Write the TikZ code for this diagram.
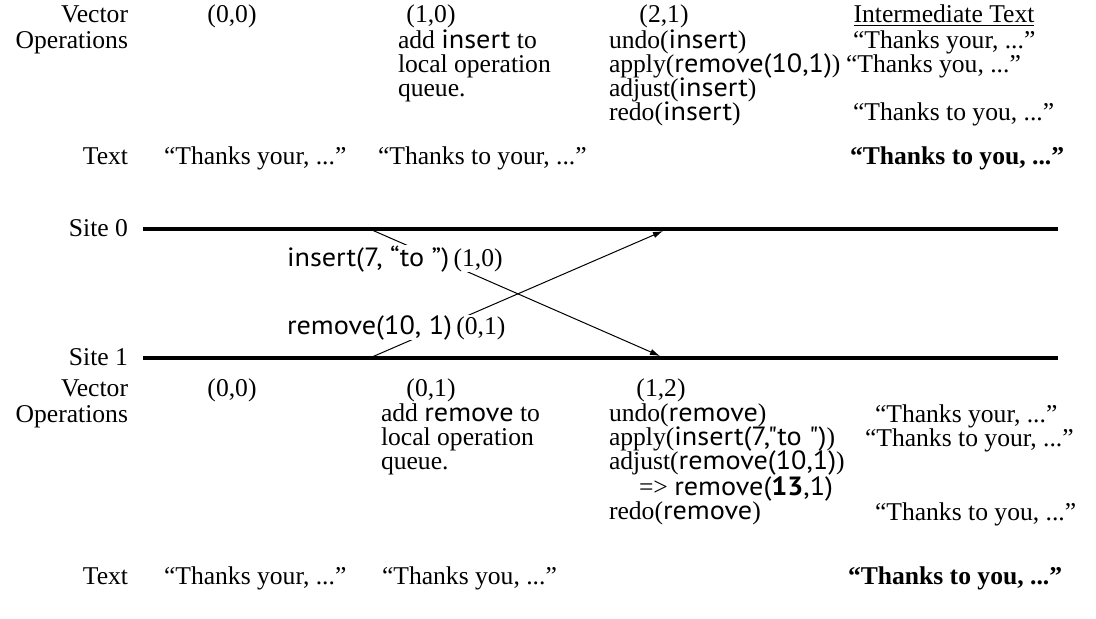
\documentclass[tikz,border=0pt]{standalone}
\usepackage{fontspec}
\setmainfont{Liberation Serif}
\newfontfamily\opfont[Scale=1.03,FakeStretch=1.07]{PT Sans}
\usetikzlibrary{arrows.meta}
\newcommand{\op}[1]{{\opfont #1}}
\newcommand{\tightlines}{\lineskiplimit=-20pt\relax\lineskip=0pt\relax}
\begin{document}
\begin{tikzpicture}[x=0.5pt,y=-0.5pt,
  every node/.style={inner sep=0pt,outer sep=0pt,font=\fontsize{12.8}{12}\selectfont\tightlines},
  lab/.style={anchor=base east},
  txt/.style={anchor=base west},
  ctr/.style={anchor=base},
  blk/.style={anchor=north west,align=left},
  site/.style={line width=2pt},
  msg/.style={line width=0.5pt,-{Latex[length=5pt,width=3.2pt]}},
  tag/.style={anchor=base west,fill=white}]
\useasboundingbox (0,0) rectangle (1096,618);
% ---------- top (site 0) ----------
\node[lab] (v0) at (128,22) {Vector};
\node[ctr] (v0a) at (232,22) {(0,0)};
\node[ctr] (v0b) at (431,22) {(1,0)};
\node[ctr] (v0c) at (664,22) {(2,1)};
\node[ctr] (itx) at (944,22) {\underline{Intermediate Text}};
\node[lab] (o0) at (128,48) {Operations};
\node[blk] (o0b) at (398,30) {add \op{insert} to\\local operation\\queue.};
\node[blk] (o0c) at (609,30) {undo(\op{insert})\\apply(\op{remove(10,1)})\\adjust(\op{insert})\\redo(\op{insert})};
\node[txt] (i0a) at (853,48) {``Thanks your, ...''};
\node[txt] (i0b) at (846,72) {``Thanks you, ...''};
\node[txt] (i0c) at (853,120) {``Thanks to you, ...''};
\node[lab] (t0) at (128,164) {Text};
\node[txt] (t0a) at (164,164) {``Thanks your, ...''};
\node[txt] (t0b) at (378,164) {``Thanks to your, ...''};
\node[txt] (t0c) at (850,164) {\textbf{``Thanks to you, ...''}};
% ---------- sites ----------
\node[anchor=east] (s0) at (128,228) {Site 0};
\node[anchor=east] (s1) at (128,357) {Site 1};
\coordinate (s0l) at (143,229);
\coordinate (s0r) at (1058,229);
\coordinate (s1l) at (143,358);
\coordinate (s1r) at (1058,358);
\draw[site] (s0l) -- (s0r);
\draw[site] (s1l) -- (s1r);
\coordinate (ins0) at (372,230);
\coordinate (ins1) at (660,356);
\coordinate (rem1) at (372,357);
\coordinate (rem0) at (663,231);
\draw[msg] (ins0) -- (ins1);
\draw[msg] (rem1) -- (rem0);
\node[tag] (insl) at (287,266) {\op{insert(7, “to ”)}\,(1,0)};
\node[tag] (reml) at (287,334) {\op{remove(10, 1)}\,(0,1)};
% ---------- bottom (site 1) ----------
\node[lab] (v1) at (128,396) {Vector};
\node[ctr] (v1a) at (232,396) {(0,0)};
\node[ctr] (v1b) at (431,396) {(0,1)};
\node[ctr] (v1c) at (661,396) {(1,2)};
\node[lab] (o1) at (128,422) {Operations};
\node[blk] (o1b) at (381,404) {add \op{remove} to\\local operation\\queue.};
\node[blk] (o1c) at (609,404) {undo(\op{remove})\\apply(\op{insert(7,"to ")})\\adjust(\op{remove(10,1)})\\[1pt]\hspace*{15pt}=> \op{remove(\textbf{13},1)}\\redo(\op{remove})};
\node[txt] (i1a) at (875,422) {``Thanks your, ...''};
\node[txt] (i1b) at (865,446) {``Thanks to your, ...''};
\node[txt] (i1c) at (875,520) {``Thanks to you, ...''};
\node[lab] (t1) at (128,584) {Text};
\node[txt] (t1a) at (164,584) {``Thanks your, ...''};
\node[txt] (t1b) at (382,584) {``Thanks you, ...''};
\node[txt] (t1c) at (848,584) {\textbf{``Thanks to you, ...''}};
\end{tikzpicture}
\end{document}
